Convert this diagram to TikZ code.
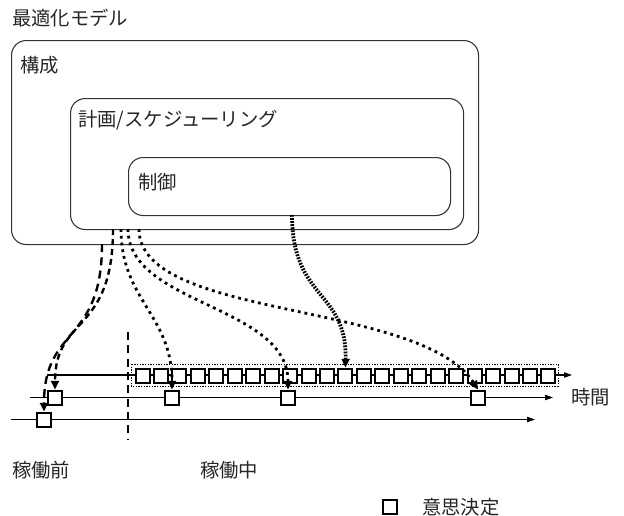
\documentclass[tikz,border=0pt]{standalone}
\usepackage{fontspec}
\setmainfont{Noto Sans CJK JP}
\usetikzlibrary{arrows.meta}
\begin{document}
\begin{tikzpicture}[x=0.75pt,y=-0.75pt,
 lbl/.style={font=\fontsize{14.5pt}{16pt}\selectfont, inner sep=0pt, anchor=west, text=black!85},
 frame/.style={draw=black!80, line width=0.8pt, rounded corners=11pt, inner sep=0pt, anchor=north west},
 ev/.style={draw, line width=1.5pt, fill=white, minimum size=10.5pt, inner sep=0pt},
 axis/.style={line width=0.8pt, -{Triangle[length=6pt,width=4pt]}},
 tip/.style={-{Triangle[length=6.5pt,width=6pt]}},
 dashlong/.style={line width=1.8pt, dash pattern=on 6pt off 4pt, tip},
 dashmid/.style={line width=1.8pt, dash pattern=on 4.5pt off 3pt, tip},
 dotline/.style={line width=2.1pt, dash pattern=on 2.1pt off 3pt, tip},
 densedot/.style={line width=2.8pt, dash pattern=on 1.3pt off 1pt, tip},
 phase/.style={line width=1.3pt, dash pattern=on 6pt off 4pt},
]
\useasboundingbox (0,0) rectangle (624,515);

% frames
\node[frame, minimum width=350.25pt, minimum height=153pt] (outer) at (11,40) {};
\node[frame, minimum width=294.75pt, minimum height=98.25pt] (plan) at (70,98) {};
\node[frame, minimum width=241.5pt, minimum height=43.5pt] (ctrl) at (128,157) {};

\node[lbl] (title) at (12,18) {最適化モデル};
\node[lbl] (tconf) at (20,65) {構成};
\node[lbl] (tplan) at (78,120) {計画/スケジューリング};
\node[lbl] (tctrl) at (138,182) {制御};

% time lines
\coordinate (l1s) at (47,375);  \coordinate (l1e) at (572,375);
\coordinate (l2s) at (30,397.5);  \coordinate (l2e) at (553,397.5);
\coordinate (l3s) at (11,419.5);  \coordinate (l3e) at (535,419.5);
\draw[axis] (l1s) -- (l1e);
\draw[axis] (l2s) -- (l2e);
\draw[axis] (l3s) -- (l3e);

% container of control decisions
\draw[line width=0.6pt, dash pattern=on 1pt off 1pt] (131,364) rectangle (558,386);
\foreach \i in {0,...,22} {
  \node[ev] (t\i) at ({142.5+\i*18.45},375.5) {};
}

% decisions
\node[ev] (m1) at (55,397.5) {};
\node[ev] (m2) at (172,397.5) {};
\node[ev] (m3) at (288,397.5) {};
\node[ev] (m4) at (478,397.5) {};
\node[ev] (b1) at (44,419.5) {};

\node[lbl] (time) at (571,397) {時間};

% phase separator
\coordinate (v1) at (128,332);
\coordinate (v2) at (128,440);
\draw[phase] (v1) -- (v2);

\node[lbl] (pre) at (12,470) {稼働前};
\node[lbl] (run) at (200,470) {稼働中};

% legend
\node[ev] (leg) at (390,507) {};
\node[lbl] (legt) at (422,507) {意思決定};

% connectors
\coordinate (s0) at (102,244);
\coordinate (s1) at (113,229);
\coordinate (s2) at (121,229);
\coordinate (s3) at (128,229);
\coordinate (s4) at (139,229);
\coordinate (s5) at (292,215);

\draw[dashlong] (s0) .. controls (102,345) and (44,325) .. (b1.north);
\draw[dashmid] (s1) .. controls (113,335) and (55,315) .. (m1.north);
\draw[dotline] (s2) .. controls (121,300) and (172,315) .. (m2.north);
\draw[dotline] (s3) .. controls (128,305) and (288,305) .. (m3.north);
\draw[dotline] (s4) .. controls (139,320) and (420,300) .. (m4.north);
\draw[densedot] (s5) .. controls (292,300) and (347,290) .. (t11.north);
\end{tikzpicture}
\end{document}
